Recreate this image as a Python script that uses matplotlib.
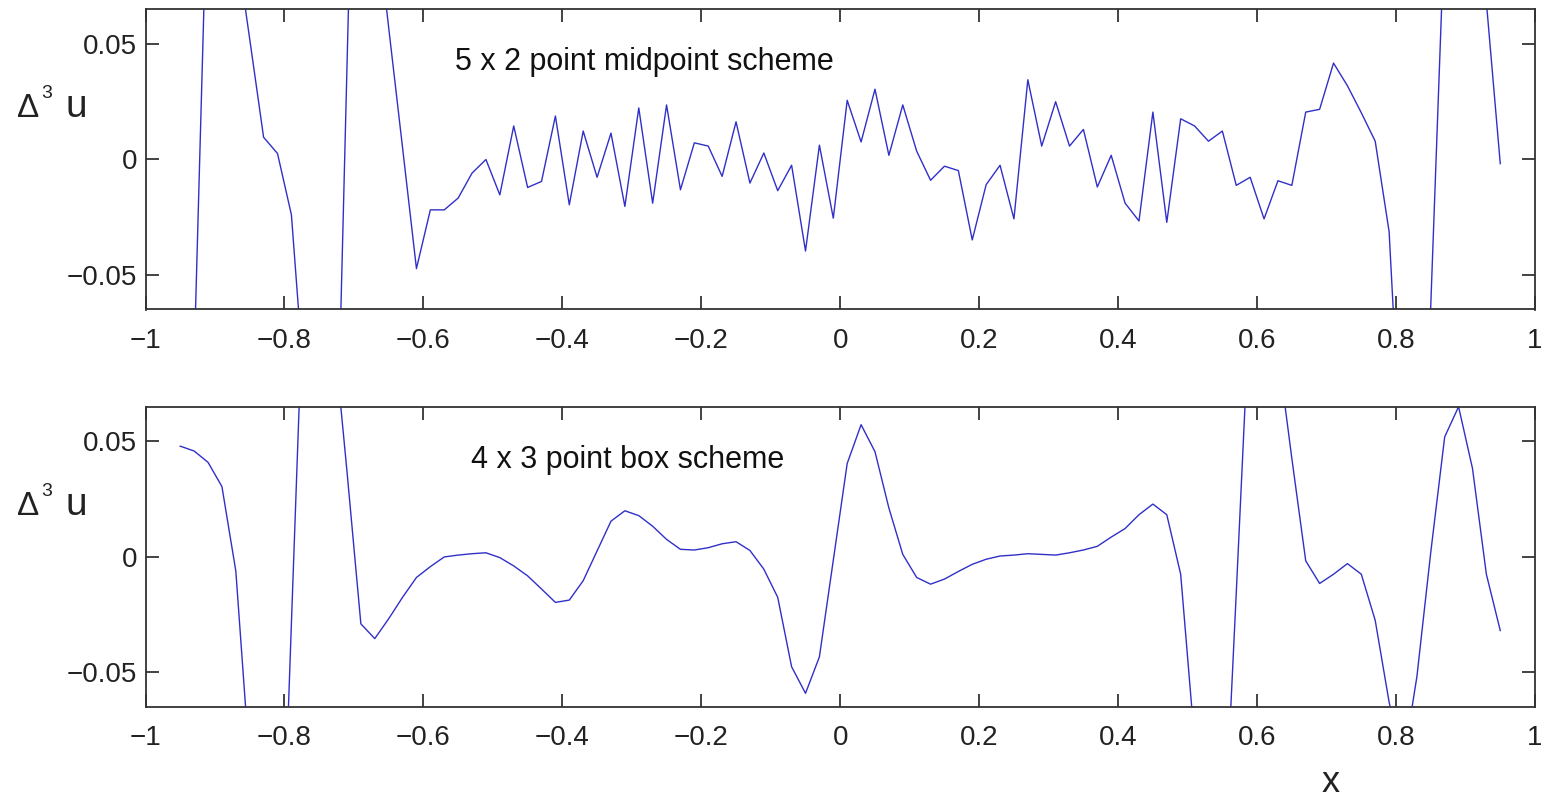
import matplotlib
matplotlib.use("Agg")
import matplotlib.pyplot as plt

plt.rcParams["font.family"] = ["Liberation Sans", "DejaVu Sans"]

# sample positions (odd hundredths from -0.95 to 0.95)
x_pts = [
    -0.95, -0.93, -0.91, -0.89, -0.87, -0.85, -0.83, -0.81, -0.79, -0.77,
    -0.75, -0.73, -0.71, -0.69, -0.67, -0.65, -0.63, -0.61, -0.59, -0.57,
    -0.55, -0.53, -0.51, -0.49, -0.47, -0.45, -0.43, -0.41, -0.39, -0.37,
    -0.35, -0.33, -0.31, -0.29, -0.27, -0.25, -0.23, -0.21, -0.19, -0.17,
    -0.15, -0.13, -0.11, -0.09, -0.07, -0.05, -0.03, -0.01, 0.01, 0.03,
    0.05, 0.07, 0.09, 0.11, 0.13, 0.15, 0.17, 0.19, 0.21, 0.23,
    0.25, 0.27, 0.29, 0.31, 0.33, 0.35, 0.37, 0.39, 0.41, 0.43,
    0.45, 0.47, 0.49, 0.51, 0.53, 0.55, 0.57, 0.59, 0.61, 0.63,
    0.65, 0.67, 0.69, 0.71, 0.73, 0.75, 0.77, 0.79, 0.81, 0.83,
    0.85, 0.87, 0.89, 0.91, 0.93, 0.95,
]

# 5 x 2 point midpoint scheme
midpoint_vals = [
    -0.20, -0.087, 0.13, 0.20, 0.094, 0.052, 0.0095, 0.0025, -0.024, -0.104,
    -0.22, -0.20, 0.04, 0.28, 0.11, 0.057, 0.005, -0.0473, -0.0219, -0.0219,
    -0.0168, -0.0060, -0.0001, -0.0154, 0.0144, -0.0122, -0.0096, 0.0187, -0.0197, 0.0122,
    -0.0078, 0.0113, -0.0204, 0.0222, -0.0190, 0.0235, -0.0132, 0.0071, 0.0057, -0.0074,
    0.0162, -0.0103, 0.0027, -0.0136, -0.0026, -0.0397, 0.0061, -0.0255, 0.0255, 0.0075,
    0.0303, 0.0017, 0.0235, 0.0035, -0.0091, -0.0030, -0.0049, -0.0349, -0.0110, -0.0026,
    -0.0258, 0.0344, 0.0057, 0.0249, 0.0057, 0.0129, -0.0120, 0.0017, -0.0190, -0.0267,
    0.0204, -0.0273, 0.0175, 0.0144, 0.0078, 0.0122, -0.0113, -0.0078, -0.0258, -0.0093,
    -0.0113, 0.0204, 0.0216, 0.0416, 0.0318, 0.0201, 0.0078, -0.0313, -0.145, -0.23,
    -0.063, 0.102, 0.15, 0.13, 0.068, -0.0019,
]

# 4 x 3 point box scheme
box_vals = [
    0.0479, 0.0458, 0.0409, 0.0304, -0.0062, -0.090, -0.20, -0.20, -0.029, 0.14,
    0.20, 0.10, 0.037, -0.0291, -0.0355, -0.0269, -0.0176, -0.0090, -0.0043, -0.0001,
    0.0007, 0.0013, 0.0017, -0.0004, -0.0040, -0.0083, -0.0140, -0.0198, -0.0188, -0.0104,
    0.0025, 0.0154, 0.0199, 0.0178, 0.0132, 0.0075, 0.0032, 0.0029, 0.0039, 0.0056,
    0.0065, 0.0027, -0.0054, -0.0176, -0.0477, -0.0592, -0.0434, -0.0015, 0.0404, 0.0572,
    0.0455, 0.0211, 0.0010, -0.0090, -0.0119, -0.0097, -0.0064, -0.0033, -0.0011, 0.0003,
    0.0007, 0.0013, 0.0010, 0.0007, 0.0017, 0.0029, 0.0045, 0.0085, 0.0122, 0.0182,
    0.0228, 0.0182, -0.0076, -0.080, -0.15, -0.142, -0.0157, 0.113, 0.12, 0.089,
    0.0426, -0.0018, -0.0116, -0.0076, -0.0030, -0.0076, -0.0276, -0.063, -0.09, -0.052,
    0.002, 0.0519, 0.065, 0.0383, -0.0076, -0.0320,
]

x_ticks = [-1, -0.8, -0.6, -0.4, -0.2, 0, 0.2, 0.4, 0.6, 0.8, 1]
x_ticklabels = ["\u22121", "\u22120.8", "\u22120.6", "\u22120.4", "\u22120.2", "0",
                "0.2", "0.4", "0.6", "0.8", "1"]
y_ticks = [-0.05, 0, 0.05]
y_ticklabels = ["\u22120.05", "0", "0.05"]

panels = [
    (midpoint_vals, "5 x 2 point midpoint scheme", -0.555),
    (box_vals, "4 x 3 point box scheme", -0.531),
]

W, H = 1541, 801
fig = plt.figure(figsize=(W / 100, H / 100), dpi=100)

# axes boxes in pixels: (left, top, right, bottom)
boxes = [(145.5, 9.0, 1535.0, 309.5), (145.5, 406.7, 1535.0, 706.7)]
line_col = "#3030c8"
text_col = "#222222"

for i, ((vals, note, note_x), (l, t, r, b)) in enumerate(zip(panels, boxes)):
    ax = fig.add_axes([l / W, 1 - b / H, (r - l) / W, (b - t) / H])
    ax.plot(x_pts, vals, color=line_col, lw=1.0)
    ax.set_xlim(-1, 1)
    ax.set_ylim(-0.065, 0.065)
    ax.set_xticks(x_ticks)
    ax.set_xticklabels(x_ticklabels)
    ax.set_yticks(y_ticks)
    ax.set_yticklabels(y_ticklabels)
    ax.tick_params(direction="in", length=9.5, width=1.2, top=True, right=True,
                   labelsize=20, colors=text_col)
    ax.tick_params(axis="x", pad=13)
    ax.tick_params(axis="y", pad=6)
    for sp in ax.spines.values():
        sp.set_linewidth(1.3)
        sp.set_color("#333333")
    ax.text(note_x, 0.042, note, fontsize=22, va="center", ha="left", color="#111111")

    # y label: Delta^3 u, drawn horizontally left of the axis
    off = t - 9.0
    fig.text(17 / W, 1 - (117 + off) / H, "\u0394", fontsize=24, va="baseline",
             ha="left", color=text_col)
    fig.text(41 / W, 1 - (98 + off) / H, "3", fontsize=14, va="baseline",
             ha="left", color=text_col)
    fig.text(65 / W, 1 - (117 + off) / H, "u", fontsize=28, va="baseline",
             ha="left", color=text_col)

# x label under the lower panel, right of centre as in the reference
fig.text(1331 / W, 1 - 792 / H, "x", fontsize=26, va="baseline", ha="center",
         color=text_col)

fig.savefig("out.png", dpi=100)
